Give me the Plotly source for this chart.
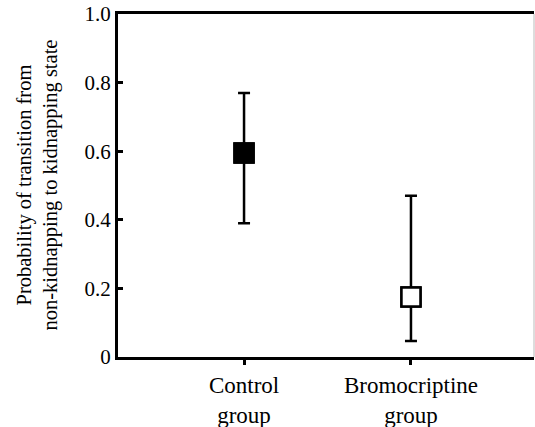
import plotly.graph_objects as go

groups = ["Control<br>group", "Bromocriptine<br>group"]
positions = [1, 2]
means = [0.595, 0.175]
upper = [0.77, 0.47]
lower = [0.39, 0.047]
fills = ["black", "white"]
y_ticks = [0, 0.2, 0.4, 0.6, 0.8, 1.0]
y_tick_labels = ["0", "0.2", "0.4", "0.6", "0.8", "1.0"]
y_title = "Probability of transition from<br>non-kidnapping to kidnapping state"

fig = go.Figure()
for i in range(len(groups)):
    fig.add_trace(go.Scatter(
        x=[positions[i]], y=[means[i]], mode="markers",
        marker=dict(symbol="square", size=19, color=fills[i],
                    line=dict(color="black", width=2.5)),
        error_y=dict(type="data", symmetric=False,
                     array=[upper[i] - means[i]],
                     arrayminus=[means[i] - lower[i]],
                     color="black", thickness=2.5, width=6),
        showlegend=False,
    ))
for i in range(len(groups)):
    fig.add_trace(go.Scatter(
        x=[positions[i]], y=[means[i]], mode="markers",
        marker=dict(symbol="square", size=19, color=fills[i],
                    line=dict(color="black", width=2.5)),
        showlegend=False, hoverinfo="skip",
    ))

SERIF = "Liberation Serif"
font_tick = dict(family=SERIF, size=21, color="black")
font_cat = dict(family=SERIF, size=23, color="black")
font_title = dict(family=SERIF, size=20.5, color="black")
L, W = 118, 535
R = 1
fig.update_layout(
    width=W, height=427,
    margin=dict(l=L, r=R, t=14, b=70),
    paper_bgcolor="white", plot_bgcolor="white",
    font=font_tick,
    xaxis=dict(range=[0.245, 2.737], tickvals=positions, ticktext=groups,
               showgrid=False, zeroline=False, showline=True, linecolor="black",
               linewidth=3, mirror=True, ticks="outside", ticklen=5, tickwidth=2.5,
               tickcolor="black", tickfont=font_cat, automargin=False),
    yaxis=dict(range=[0, 1.0], tickvals=y_ticks, ticktext=y_tick_labels,
               showgrid=False, zeroline=False, showline=True, linecolor="black",
               linewidth=3, ticks="inside", ticklen=5, tickwidth=2.5,
               tickcolor="black", tickfont=font_tick, ticklabeloverflow="allow",
               automargin=False),
    annotations=[dict(text=y_title, textangle=-90, xref="paper", yref="paper",
                      x=(37 - L) / (W - R - L), y=0.5, xanchor="center", yanchor="middle",
                      showarrow=False, font=font_title)],
)
fig.add_shape(type="line", xref="paper", yref="paper", x0=1, x1=1, y0=0, y1=1,
              line=dict(color="#bbbbbb", width=1))
fig.write_html("out.html",
               config={"displayModeBar": False},
               post_script="document.body.style.margin='0';document.body.style.overflow='hidden';")
